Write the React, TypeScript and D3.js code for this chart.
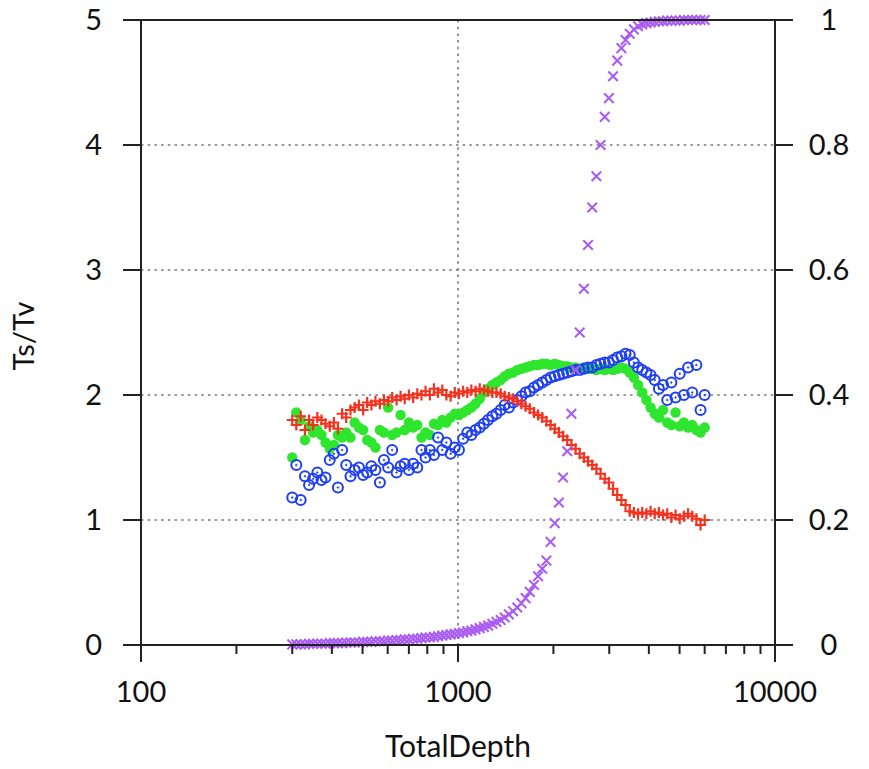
import React from "react";
import * as d3 from "d3";

const depths = [
  300, 309, 319, 329, 339, 349, 360, 371, 382, 394,
  406, 418, 431, 444, 458, 472, 487, 502, 517, 533,
  549, 567, 584, 602, 620, 640, 659, 679, 700, 722,
  744, 767, 790, 815, 840, 865, 892, 919, 948, 977,
  1007, 1038, 1070, 1102, 1136, 1171, 1207, 1244, 1283, 1322,
  1363, 1404, 1447, 1492, 1538, 1585, 1634, 1684, 1736, 1789,
  1844, 1901, 1959, 2019, 2081, 2145, 2211, 2279, 2349, 2421,
  2496, 2572, 2651, 2733, 2817, 2903, 2992, 3084, 3179, 3277,
  3377, 3481, 3588, 3698, 3812, 3929, 4050, 4174, 4302, 4435,
  4571, 4711, 4856, 5005, 5159, 5318, 5481, 5649, 5823, 6000,
];

// red "+" series (left axis)
const seriesRed = [
  1.80, 1.76, 1.83, 1.72, 1.80, 1.76, 1.82, 1.80, 1.77, 1.75,
  1.78, 1.73, 1.85, 1.82, 1.88, 1.90, 1.92, 1.88, 1.94, 1.92,
  1.95, 1.93, 1.96, 1.95, 1.98, 1.96, 1.99, 1.97, 2.00, 1.98,
  2.01, 2.00, 2.03, 2.00, 2.05, 2.02, 2.04, 2.00, 1.99, 2.02,
  2.01, 2.03, 2.02, 2.04, 2.03, 2.05, 2.04, 2.03, 2.02, 2.02,
  2.01, 1.99, 1.98, 1.97, 1.95, 1.93, 1.91, 1.89, 1.86, 1.84,
  1.82, 1.79, 1.76, 1.73, 1.70, 1.67, 1.64, 1.60, 1.57, 1.53,
  1.50, 1.47, 1.44, 1.41, 1.37, 1.33, 1.30, 1.25, 1.20, 1.16,
  1.12, 1.07, 1.06, 1.05, 1.06, 1.05, 1.07, 1.05, 1.06, 1.04,
  1.05, 1.02, 1.04, 1.01, 1.03, 1.05, 1.03, 1.01, 0.96, 1.00,
];

// green filled circle series (left axis)
const seriesGreen = [
  1.50, 1.86, 1.80, 1.64, 1.75, 1.70, 1.72, 1.68, 1.62, 1.57,
  1.60, 1.68, 1.66, 1.70, 1.66, 1.78, 1.74, 1.72, 1.64, 1.62,
  1.58, 1.72, 1.70, 1.90, 1.68, 1.70, 1.84, 1.72, 1.78, 1.74,
  1.76, 1.66, 1.70, 1.68, 1.77, 1.76, 1.80, 1.78, 1.82, 1.85,
  1.84, 1.86, 1.88, 1.90, 1.93, 1.97, 2.02, 2.05, 2.08, 2.10,
  2.12, 2.15, 2.17, 2.18, 2.20, 2.21, 2.22, 2.23, 2.24, 2.24,
  2.25, 2.25, 2.24, 2.25, 2.24, 2.23, 2.23, 2.22, 2.22, 2.21,
  2.22, 2.21, 2.21, 2.20, 2.21, 2.20, 2.21, 2.20, 2.21, 2.22,
  2.21, 2.18, 2.14, 2.08, 2.02, 1.96, 1.90, 1.85, 1.82, 1.88,
  1.78, 1.76, 1.86, 1.75, 1.78, 1.74, 1.76, 1.72, 1.70, 1.74,
];

// blue open circle series (left axis)
const seriesBlue = [
  1.18, 1.44, 1.16, 1.35, 1.28, 1.33, 1.38, 1.32, 1.34, 1.48,
  1.53, 1.26, 1.56, 1.44, 1.35, 1.40, 1.42, 1.36, 1.38, 1.43,
  1.40, 1.30, 1.48, 1.42, 1.56, 1.38, 1.43, 1.45, 1.40, 1.45,
  1.42, 1.56, 1.50, 1.56, 1.52, 1.66, 1.56, 1.62, 1.53, 1.58,
  1.56, 1.65, 1.70, 1.68, 1.72, 1.74, 1.77, 1.80, 1.83, 1.85,
  1.88, 1.92, 1.90, 1.94, 1.96, 1.99, 2.02, 2.03, 2.06, 2.08,
  2.10, 2.12, 2.14, 2.15, 2.16, 2.17, 2.18, 2.19, 2.20, 2.20,
  2.21, 2.22, 2.22, 2.24, 2.25, 2.26, 2.26, 2.28, 2.30, 2.31,
  2.33, 2.32, 2.26, 2.22, 2.20, 2.18, 2.16, 2.12, 2.05, 2.08,
  1.96, 2.10, 1.98, 2.17, 2.00, 2.22, 2.02, 2.24, 1.88, 2.00,
];

// purple "x" series (right axis, cumulative fraction)
const seriesPurple = [
  0.001, 0.001, 0.001, 0.001, 0.002, 0.002, 0.002, 0.002, 0.002, 0.003,
  0.003, 0.003, 0.003, 0.004, 0.004, 0.004, 0.004, 0.005, 0.005, 0.005,
  0.006, 0.006, 0.006, 0.007, 0.007, 0.008, 0.008, 0.009, 0.009, 0.010,
  0.010, 0.011, 0.012, 0.012, 0.013, 0.014, 0.015, 0.016, 0.017, 0.018,
  0.019, 0.020, 0.022, 0.023, 0.025, 0.027, 0.029, 0.031, 0.034, 0.037,
  0.040, 0.044, 0.049, 0.054, 0.060, 0.067, 0.075, 0.085, 0.096, 0.110,
  0.122, 0.135, 0.165, 0.195, 0.228, 0.268, 0.310, 0.370, 0.440, 0.500,
  0.570, 0.640, 0.700, 0.750, 0.800, 0.845, 0.875, 0.910, 0.935, 0.955,
  0.968, 0.978, 0.985, 0.990, 0.993, 0.995, 0.996, 0.997, 0.998, 0.998,
  0.999, 0.999, 0.999, 0.999, 1.000, 1.000, 1.000, 1.000, 1.000, 1.000,
];

const xTicks = [100, 1000, 10000];
const xTickLabels = ["100", "1000", "10000"];
const leftTicks = [0, 1, 2, 3, 4, 5];
const rightTicks = [0, 0.2, 0.4, 0.6, 0.8, 1];
const rightTickLabels = ["0", "0.2", "0.4", "0.6", "0.8", "1"];

const W = 869;
const H = 769;
const M = { left: 141, right: 775, top: 20, bottom: 645 };
const FONT = "Lato, 'Open Sans', sans-serif";

export default function App() {
  const x = d3.scaleLog().domain([100, 10000]).range([M.left, M.right]);
  const yL = d3.scaleLinear().domain([0, 5]).range([M.bottom, M.top]);
  const yR = d3.scaleLinear().domain([0, 1]).range([M.bottom, M.top]);

  const minorTicks: number[] = [];
  for (const dec of [100, 1000]) {
    for (let k = 2; k <= 9; k++) minorTicks.push(dec * k);
  }

  const red = "#f6321f";
  const green = "#2ee62e";
  const blue = "#1f3ff2";
  const purple = "#a95cf2";

  return (
    <svg
      width={W}
      height={H}
      style={{ position: "absolute", left: 0, top: 0, background: "#fff" }}
      fontFamily={FONT}
    >
      <rect width={W} height={H} fill="#fff" />
      {/* grid */}
      <g stroke="#777" strokeWidth={1.6} strokeDasharray="2.5,4.2">
        {[1, 2, 3, 4].map((v) => (
          <line key={v} x1={M.left} x2={M.right} y1={yL(v)} y2={yL(v)} />
        ))}
        <line x1={x(1000)} x2={x(1000)} y1={M.top} y2={M.bottom} />
      </g>

      {/* series */}
      <g fill={green}>
        {depths.map((d, i) => (
          <circle key={i} cx={x(d)} cy={yL(seriesGreen[i])} r={5.2} />
        ))}
      </g>
      <g stroke={blue} fill="none" strokeWidth={2}>
        {depths.map((d, i) => (
          <g key={i}>
            <circle cx={x(d)} cy={yL(seriesBlue[i])} r={5} />
            <circle cx={x(d)} cy={yL(seriesBlue[i])} r={0.8} fill={blue} strokeWidth={0.8} />
          </g>
        ))}
      </g>
      <g stroke={red} strokeWidth={2.2}>
        {depths.map((d, i) => {
          const cx = x(d);
          const cy = yL(seriesRed[i]);
          return (
            <path key={i} d={`M${cx - 5.5},${cy}H${cx + 5.5}M${cx},${cy - 5.5}V${cy + 5.5}`} />
          );
        })}
      </g>
      <g stroke={purple} strokeWidth={2}>
        {depths.map((d, i) => {
          const cx = x(d);
          const cy = yR(seriesPurple[i]);
          const a = 4.8;
          return (
            <path
              key={i}
              d={`M${cx - a},${cy - a}L${cx + a},${cy + a}M${cx - a},${cy + a}L${cx + a},${cy - a}`}
            />
          );
        })}
      </g>

      {/* frame */}
      <rect
        x={M.left}
        y={M.top}
        width={M.right - M.left}
        height={M.bottom - M.top}
        fill="none"
        stroke="#222"
        strokeWidth={2}
      />

      {/* ticks */}
      <g stroke="#222" strokeWidth={2}>
        {xTicks.map((t) => (
          <line key={t} x1={x(t)} x2={x(t)} y1={M.bottom} y2={M.bottom + 17} />
        ))}
        {minorTicks.map((t) => (
          <line key={t} x1={x(t)} x2={x(t)} y1={M.bottom} y2={M.bottom + 9} />
        ))}
        {leftTicks.map((t) => (
          <line key={t} x1={M.left - 18} x2={M.left} y1={yL(t)} y2={yL(t)} />
        ))}
        {rightTicks.map((t) => (
          <line key={t} x1={M.right} x2={M.right + 18} y1={yR(t)} y2={yR(t)} />
        ))}
      </g>

      {/* tick labels */}
      <g fontSize={29} fill="#111">
        {xTicks.map((t, i) => (
          <text key={t} x={x(t)} y={702} textAnchor="middle">
            {xTickLabels[i]}
          </text>
        ))}
        {leftTicks.map((t) => (
          <text key={t} x={102} y={yL(t)} dy="0.36em" textAnchor="end">
            {t}
          </text>
        ))}
        {rightTicks.map((t, i) => (
          <text key={t} x={829} y={yR(t)} dy="0.36em" textAnchor="middle">
            {rightTickLabels[i]}
          </text>
        ))}
      </g>

      {/* axis titles */}
      <text x={x(1000)} y={757} textAnchor="middle" fontSize={30} fill="#111">
        TotalDepth
      </text>
      <text
        transform={`translate(34, 336) rotate(-90)`}
        textAnchor="middle"
        fontSize={29}
        fill="#111"
      >
        Ts/Tv
      </text>
    </svg>
  );
}
